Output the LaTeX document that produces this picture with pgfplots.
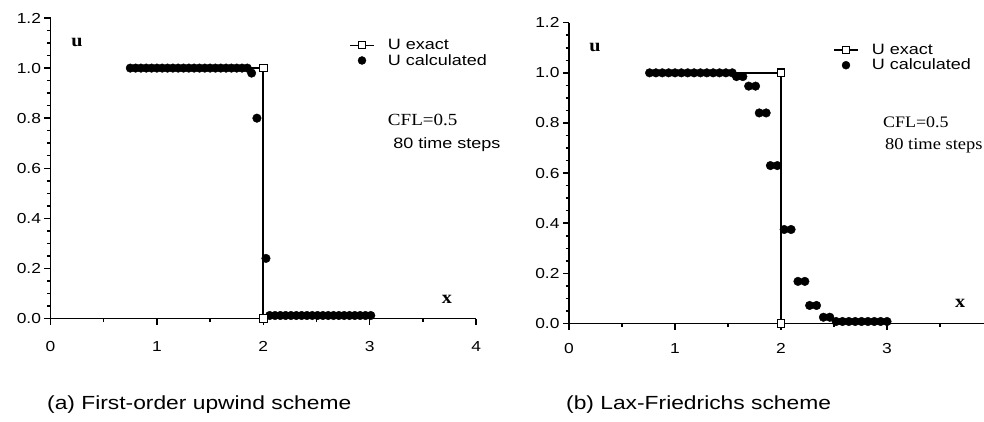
\documentclass[border=0pt]{standalone}
\usepackage{fontspec}
\setmainfont{Liberation Sans}[FakeStretch=1.2]
\newfontfamily\tnr{Liberation Serif}[FakeStretch=1.12]
\usepackage{pgfplots}
\usepackage{pgfplotstable}
\pgfplotsset{compat=1.18}

\pgfplotstableread{
x y
0.75 1.0
0.80 1.0
0.85 1.0
0.90 1.0
0.95 1.0
1.00 1.0
1.05 1.0
1.10 1.0
1.15 1.0
1.20 1.0
1.25 1.0
1.30 1.0
1.35 1.0
1.40 1.0
1.45 1.0
1.50 1.0
1.55 1.0
1.60 1.0
1.65 1.0
1.70 1.0
1.75 1.0
1.80 1.0
1.85 1.0
1.89 0.98
1.94 0.80
2.025 0.24
2.06 0.012
2.11 0.012
2.16 0.012
2.21 0.012
2.26 0.012
2.31 0.012
2.36 0.012
2.41 0.012
2.46 0.012
2.51 0.012
2.56 0.012
2.61 0.012
2.66 0.012
2.71 0.012
2.76 0.012
2.81 0.012
2.86 0.012
2.91 0.012
2.96 0.012
3.01 0.012
}\upwind

\pgfplotstableread{
x y
0.76 1.0
0.82 1.0
0.88 1.0
0.94 1.0
1.00 1.0
1.06 1.0
1.12 1.0
1.18 1.0
1.24 1.0
1.30 1.0
1.36 1.0
1.42 1.0
1.48 1.0
1.54 1.0
1.58 0.985
1.64 0.985
1.695 0.947
1.76 0.947
1.795 0.84
1.86 0.84
1.90 0.63
1.965 0.63
2.03 0.375
2.095 0.375
2.16 0.168
2.225 0.168
2.27 0.072
2.335 0.072
2.40 0.025
2.46 0.025
2.52 0.008
2.58 0.008
2.64 0.008
2.70 0.008
2.76 0.008
2.82 0.008
2.88 0.008
2.94 0.008
3.00 0.008
}\laxf

\pgfplotstableread{
x y
0.75 1
2 1
2 0
3.05 0
}\exactA

\pgfplotstableread{
x y
2 1
2 0
}\exactMarks

\pgfplotsset{
  exactleg/.style={legend image code/.code={%
    \draw[line width=1.7pt] (0pt,0pt) -- (24pt,0pt);
    \draw[line width=1.1pt, fill=white] (8.5pt,-3.5pt) rectangle (15.5pt,3.5pt);}},
  calcleg/.style={legend image code/.code={%
    \path[draw=none] (0pt,0pt) -- (24pt,0pt);
    \fill (12pt,0pt) circle (4pt);}},
  myax/.style={
  scale only axis,
  xmin=0, xmax=4, ymin=0, ymax=1.2,
  axis lines=left,
  axis line style={-, line width=1.8pt},
  xtick={0,1,2,3,4}, minor x tick num=1,
  ytick={0,0.2,0.4,0.6,0.8,1.0,1.2}, minor y tick num=3,
  tick align=outside,
  major tick length=6pt, minor tick length=3.5pt,
  every tick/.style={black, line width=1.5pt},
  /pgf/number format/assume math mode=true,
  yticklabel style={/pgf/number format/fixed,/pgf/number format/fixed zerofill,/pgf/number format/precision=1},
  tick label style={font=\fontsize{14.5}{16}\selectfont},
  clip=false,
  legend style={draw=none, fill=none, inner sep=0pt, row sep=3pt, column sep=0pt,
    font=\fontsize{15}{17}\selectfont, anchor=north west,
    nodes={inner sep=0pt}},
  legend cell align=left,
}}

\begin{document}
\begin{tikzpicture}
% ---------- (a) ----------
\begin{axis}[myax, width=425.6pt, height=300.5pt,
  at={(50.5pt,102.5pt)}, anchor=south west,
  xticklabel style={yshift=-13pt},
  legend style={at={(axis cs:2.805,1.115)}, column sep=13pt}]
\addplot[only marks, mark=*, mark size=4.3pt, forget plot] table {\upwind};
\addplot[line width=1.8pt, forget plot] table {\exactA};
\addplot[only marks, mark=square*, mark options={fill=white, line width=1.1pt}, mark size=3.8pt, forget plot] table {\exactMarks};
\addlegendimage{exactleg}
\addlegendentry{U exact}
\addlegendimage{calcleg}
\addlegendentry{U calculated}
\node[anchor=center] at (axis cs:0.25,1.104) {\fontsize{18}{20}\selectfont\tnr\bfseries u};
\node[anchor=center] at (axis cs:3.726,0.078) {\fontsize{18}{20}\selectfont\tnr\bfseries x};
\node[anchor=west, inner sep=0pt] at (axis cs:3.17,0.793) {\fontsize{17}{19}\selectfont\tnr CFL=0.5};
\node[anchor=west, inner sep=0pt] at (axis cs:3.22,0.693) {\fontsize{15}{17}\selectfont 80 time steps};
\end{axis}
% ---------- (b) ----------
\begin{axis}[myax, width=424pt, height=300.8pt,
  at={(569pt,97.5pt)}, anchor=south west,
  xticklabel style={yshift=-10pt},
  legend style={at={(axis cs:2.49,1.115)}, column sep=13pt}]
\addplot[only marks, mark=*, mark size=4.3pt, forget plot] table {\laxf};
\addplot[line width=1.8pt, forget plot] table {\exactA};
\addplot[only marks, mark=square*, mark options={fill=white, line width=1.1pt}, mark size=3.8pt, forget plot] table {\exactMarks};
\addlegendimage{exactleg}
\addlegendentry{U exact}
\addlegendimage{calcleg}
\addlegendentry{U calculated}
\node[anchor=center] at (axis cs:0.245,1.102) {\fontsize{18}{20}\selectfont\tnr\bfseries u};
\node[anchor=center] at (axis cs:3.69,0.081) {\fontsize{18}{20}\selectfont\tnr\bfseries x};
\node[anchor=west, inner sep=0pt] at (axis cs:2.962,0.803) {\fontsize{16}{18}\selectfont\tnr CFL=0.5};
\node[anchor=west, inner sep=0pt] at (axis cs:2.98,0.711) {\fontsize{16.5}{18}\selectfont\tnr 80 time steps};
\end{axis}
% ---------- captions ----------
\node[anchor=west, inner sep=0pt] at (47pt,16pt) {\fontsize{19}{21}\selectfont (a) First-order upwind scheme};
\node[anchor=west, inner sep=0pt] at (566pt,16pt) {\fontsize{19}{21}\selectfont (b) Lax-Friedrichs scheme};
\pgfresetboundingbox
\path[use as bounding box] (0pt,0pt) rectangle (984pt,421pt);
\end{tikzpicture}
\end{document}
